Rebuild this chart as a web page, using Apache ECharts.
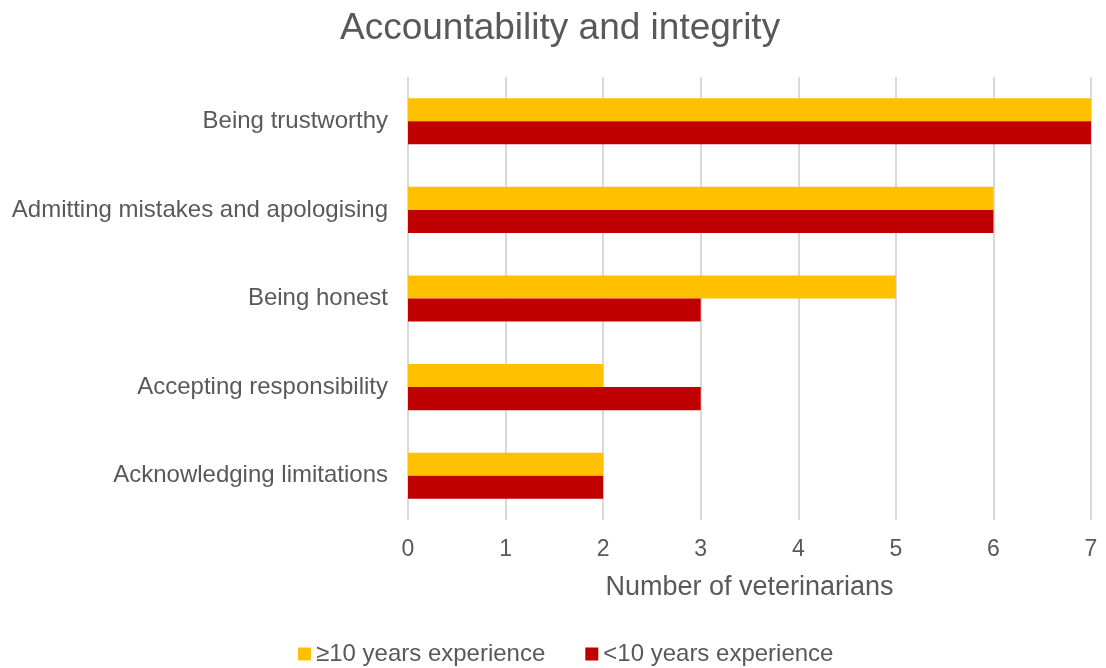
<!DOCTYPE html>
<html><head><meta charset="utf-8">
<script src="https://cdn.jsdelivr.net/npm/echarts@6/dist/echarts.min.js"></script>
<style>html,body{margin:0;padding:0;background:#fff}#c{width:1106px;height:668px}</style>
</head><body><div id="c"></div>
<script>
const categories = ["Being trustworthy","Admitting mistakes and apologising","Being honest","Accepting responsibility","Acknowledging limitations"];
const seniorValues = [7,6,5,2,2];
const juniorValues = [7,6,3,3,2];
const seriesNames = ["≥10 years experience","<10 years experience"];
const font = "Liberation Sans, Arial, sans-serif";
const chart = echarts.init(document.getElementById('c'));
chart.setOption({
  animation:false,
  title:{text:"Accountability and integrity",left:335,top:5,textStyle:{fontFamily:font,fontSize:37,fontWeight:'normal',color:'#595959'}},
  legend:{top:637,left:293,itemWidth:13,itemHeight:13,itemGap:40,itemStyle:{borderWidth:0},icon:'rect',textStyle:{fontFamily:font,fontSize:24,color:'#595959'},data:seriesNames},
  grid:{left:408,right:15,top:77,bottom:148,containLabel:false},
  xAxis:{type:'value',min:0,max:7,interval:1,name:"Number of veterinarians",nameLocation:'middle',nameGap:54,
    nameTextStyle:{fontFamily:font,fontSize:27,color:'#595959'},
    axisLine:{show:false},axisTick:{show:false},
    axisLabel:{fontFamily:font,fontSize:23,color:'#595959',margin:18},
    splitLine:{lineStyle:{color:'#d9d9d9',width:2}}},
  yAxis:{type:'category',inverse:true,data:categories,axisLine:{show:false},axisTick:{show:false},
    axisLabel:{fontFamily:font,fontSize:24,color:'#595959',margin:20}},
  series:[
    {name:seriesNames[0],type:'bar',data:seniorValues,itemStyle:{color:'#FFC000'},barGap:'0%',barCategoryGap:'48%'},
    {name:seriesNames[1],type:'bar',data:juniorValues,itemStyle:{color:'#C00000'},barGap:'0%',barCategoryGap:'48%'}
  ]
});
</script></body></html>
